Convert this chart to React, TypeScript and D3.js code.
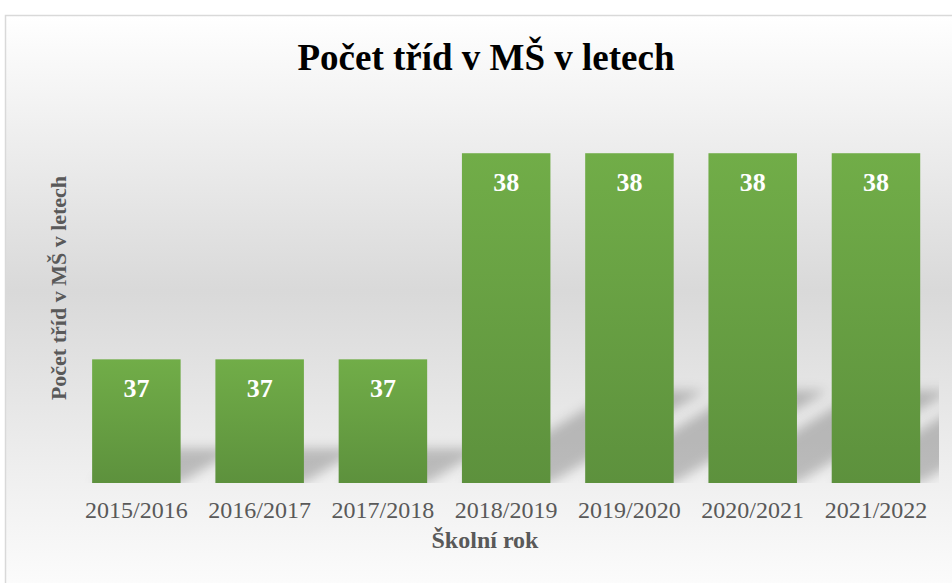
import React from "react";
import * as d3 from "d3";

const categories = ["2015/2016", "2016/2017", "2017/2018", "2018/2019", "2019/2020", "2020/2021", "2021/2022"];
const values = [37, 37, 37, 38, 38, 38, 38];
const axisMin = 36.4;
const axisMax = 38.2;
const title = "Počet tříd v MŠ v letech";
const yTitle = "Počet tříd v MŠ v letech";
const xTitle = "Školní rok";

const W = 952;
const H = 583;
const plot = { left: 74.75, right: 937.6, top: 112, bottom: 483 };
const FONT = "'Liberation Serif', 'Times New Roman', serif";

export default function App() {
  const x = d3
    .scaleBand<string>()
    .domain(categories)
    .range([plot.left, plot.right])
    .paddingInner(0.282)
    .paddingOuter(0.141);
  const y = d3.scaleLinear().domain([axisMin, axisMax]).range([plot.bottom, plot.top]);
  const bw = x.bandwidth();
  const slope = 0.6;

  const shadowPath = (c: string, v: number) => {
    const x0 = x(c)!;
    const x1 = x0 + bw;
    const h = plot.bottom - y(v);
    const sy = h * 0.28;
    const sx = sy / slope;
    const p = d3.path();
    p.moveTo(x0, plot.bottom);
    p.lineTo(x1, plot.bottom);
    p.lineTo(x1 + sx, plot.bottom - sy);
    p.lineTo(x0 + sx, plot.bottom - sy);
    p.closePath();
    return p.toString();
  };

  return (
    <div style={{ position: "fixed", left: 0, top: 0 }}>
      <svg width={W} height={H} style={{ display: "block" }}>
        <defs>
          <linearGradient id="bg" gradientUnits="userSpaceOnUse" x1="0" y1="15" x2="0" y2="590">
            <stop offset="0" stopColor="#ffffff" />
            <stop offset="0.48" stopColor="#d9d9d9" />
            <stop offset="0.8" stopColor="#efefef" />
            <stop offset="1" stopColor="#fcfcfc" />
          </linearGradient>
          <linearGradient id="bar" x1="0" y1="0" x2="0" y2="1">
            <stop offset="0" stopColor="#71ad48" />
            <stop offset="1" stopColor="#5d913d" />
          </linearGradient>
          <filter id="blur" x="-50%" y="-50%" width="200%" height="200%">
            <feGaussianBlur stdDeviation="6" />
          </filter>
          <clipPath id="plotClip">
            <rect x={plot.left} y={0} width={939 - plot.left} height={plot.bottom} />
          </clipPath>
        </defs>
        <rect x={0} y={0} width={W} height={H} fill="#ffffff" />
        <rect x={5.5} y={15.5} width={W + 20} height={H + 20} fill="url(#bg)" stroke="#d9d9d9" strokeWidth={1.5} />

        <text x={486} y={70} textAnchor="middle" fontFamily={FONT} fontWeight="bold" fontSize={37} fill="#000000">
          {title}
        </text>

        <g clipPath="url(#plotClip)">
          {categories.map((c, i) => (
            <path key={c} d={shadowPath(c, values[i])} fill="#000000" fillOpacity={0.22} filter="url(#blur)" />
          ))}
        </g>

        {categories.map((c, i) => (
          <rect key={c} x={x(c)} y={y(values[i])} width={bw} height={plot.bottom - y(values[i])} fill="url(#bar)" />
        ))}

        {categories.map((c, i) => (
          <text
            key={c}
            x={x(c)! + bw / 2}
            y={y(values[i]) + 38}
            textAnchor="middle"
            fontFamily={FONT}
            fontWeight="bold"
            fontSize={26}
            fill="#ffffff"
          >
            {values[i]}
          </text>
        ))}

        {categories.map((c) => (
          <text key={c} x={x(c)! + bw / 2} y={518} textAnchor="middle" fontFamily={FONT} fontSize={24} fill="#595959">
            {c}
          </text>
        ))}

        <text x={485} y={548} textAnchor="middle" fontFamily={FONT} fontWeight="bold" fontSize={24} fill="#595959">
          {xTitle}
        </text>

        <text
          transform="translate(66,288) rotate(-90)"
          textAnchor="middle"
          fontFamily={FONT}
          fontWeight="bold"
          fontSize={22}
          fill="#595959"
        >
          {yTitle}
        </text>
      </svg>
    </div>
  );
}
